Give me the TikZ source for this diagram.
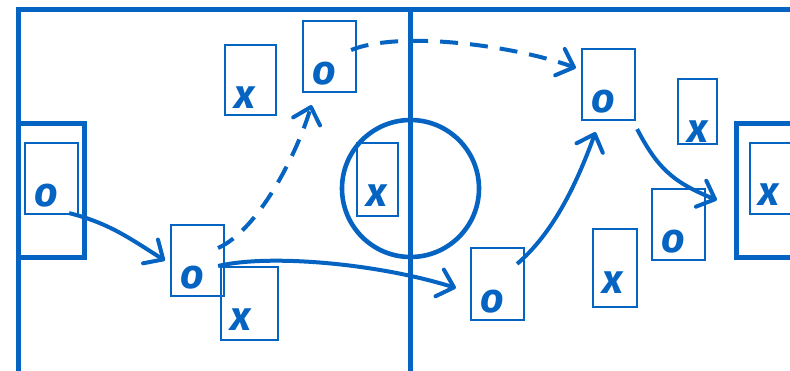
\documentclass[tikz,border=0pt]{standalone}
\usepackage{fontspec}
\setmainfont{Fira Sans}
\usetikzlibrary{arrows.meta,calc}
\definecolor{ink}{HTML}{0563C1}
\begin{document}
\begin{tikzpicture}[x=1pt,y=-1pt,
  field/.style={draw=ink, line width=4.6pt},
  player/.style={draw=ink, line width=2.2pt, rectangle, inner sep=0pt},
  glyph/.style={text=ink, inner sep=0pt, font=\fontsize{41}{41}\selectfont\bfseries\itshape},
  run/.style={draw=ink, line width=4pt, -{Straight Barb[length=15pt,width=28pt,round]}},
  pass/.style={run, dash pattern=on 18pt off 12pt}
]
\useasboundingbox (0,0) rectangle (790,370);
\clip (0,0) rectangle (790,370);

% pitch markings
\draw[field] (18.5,380) -- (18.5,9.7) -- (800,9.7);
\draw[field] (410.5,9.7) -- (410.5,380);
\draw[field] (410.5,188.5) circle[radius=68.5];
\draw[field] (18.5,123.5) -- (84.5,123.5) -- (84.5,257.5) -- (18.5,257.5);
\draw[field] (800,123.5) -- (736.5,123.5) -- (736.5,257.5) -- (800,257.5);

% players
\node[player, minimum width=53, minimum height=71] (p1)  at (51.5,178.5) {};
\node[player, minimum width=51, minimum height=70] (p2)  at (250.5,80) {};
\node[player, minimum width=53, minimum height=71] (p3)  at (329.5,56.5) {};
\node[player, minimum width=53, minimum height=71] (p4)  at (197.5,260.5) {};
\node[player, minimum width=57, minimum height=73] (p5)  at (249.5,303.5) {};
\node[player, minimum width=41, minimum height=73] (p6)  at (377.5,179.5) {};
\node[player, minimum width=53, minimum height=72] (p7)  at (497.5,284) {};
\node[player, minimum width=53, minimum height=71] (p8)  at (608.5,84.5) {};
\node[player, minimum width=39, minimum height=65] (p9)  at (697.5,111.5) {};
\node[player, minimum width=53, minimum height=71] (p10) at (678.5,224.5) {};
\node[player, minimum width=44, minimum height=78] (p11) at (615,268) {};
\node[player, minimum width=55, minimum height=71] (p12) at (777.5,178.5) {};

% marks inside the boxes
\node[glyph] (g1)  at (46,196)  {o};
\node[glyph] (g2)  at (245,98)  {x};
\node[glyph] (g3)  at (324,74)  {o};
\node[glyph] (g4)  at (192,278) {o};
\node[glyph] (g5)  at (241,320) {x};
\node[glyph] (g6)  at (377,196) {x};
\node[glyph] (g7)  at (492,302) {o};
\node[glyph] (g8)  at (603,102) {o};
\node[glyph] (g9)  at (698,132) {x};
\node[glyph] (g10) at (673,242) {o};
\node[glyph] (g11) at (613,283) {x};
\node[glyph] (g12) at (769,195) {x};

% runs and passes
\draw[run]  ($(p1.south east)+(-10,-2)$) .. controls +(40,10) and +(-35,-22) .. ($(p4.west)+(-5,0)$);
\draw[pass] ($(p4.east)+(-7,-12.5)$) .. controls +(40,-18) and +(-15,50) .. ($(p3.south)+(-18,12)$);
\draw[run]  ($(p4.east)+(-7,5.5)$) .. controls +(50,-12) and +(-80,-25) .. ($(p7.west)+(-14,4)$);
\draw[pass] ($(p3.east)+(-6,-6.5)$) .. controls +(50,-20) and +(-60,-22) .. ($(p8.west)+(-5,-16.5)$);
\draw[run]  ($(p7.north east)+(-8,17)$) .. controls +(35,-30) and +(-20,55) .. ($(p8.south)+(-13,11)$);
\draw[run]  ($(p8.south east)+(1,8)$) .. controls +(20,38) and +(-45,-18) .. ($(p12.west)+(-32,21.5)$);
\end{tikzpicture}
\end{document}
